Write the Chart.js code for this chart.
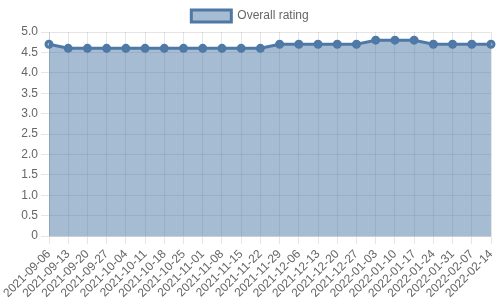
<!DOCTYPE html>
<html>
<head>
<meta charset="utf-8">
<script src="https://cdn.jsdelivr.net/npm/chart.js@4"></script>
<style>
  body { margin: 0; background: #fff; }
  #wrap { width: 500px; height: 300px; }
</style>
</head>
<body>
<div id="wrap"><canvas id="ratingChart"></canvas></div>
<script>
const weeks = [
  "2021-09-06", "2021-09-13", "2021-09-20", "2021-09-27", "2021-10-04",
  "2021-10-11", "2021-10-18", "2021-10-25", "2021-11-01", "2021-11-08",
  "2021-11-15", "2021-11-22", "2021-11-29", "2021-12-06", "2021-12-13",
  "2021-12-20", "2021-12-27", "2022-01-03", "2022-01-10", "2022-01-17",
  "2022-01-24", "2022-01-31", "2022-02-07", "2022-02-14",
];
const overallRating = [
  4.7, 4.6, 4.6, 4.6, 4.6, 4.6, 4.6, 4.6, 4.6, 4.6, 4.6, 4.6,
  4.7, 4.7, 4.7, 4.7, 4.7, 4.8, 4.8, 4.8, 4.7, 4.7, 4.7, 4.7,
];

Chart.defaults.font.family = "'Liberation Sans', Arial, sans-serif";
Chart.defaults.font.size = 12;
Chart.defaults.color = "#666";

const ctx = document.getElementById("ratingChart").getContext("2d");
const ratingChart = new Chart(ctx, {
  type: "line",
  data: {
    labels: weeks,
    datasets: [
      {
        label: "Overall rating",
        data: overallRating,
        borderColor: "rgba(78, 121, 167, 1)",
        backgroundColor: "rgba(78, 121, 167, 0.5)",
        borderWidth: 3,
        tension: 0,
        fill: true,
        pointRadius: 3,
        pointBackgroundColor: "rgba(78, 121, 167, 0.5)",
      },
    ],
  },
  options: {
    responsive: true,
    maintainAspectRatio: false,
    animation: false,
    scales: {
      y: {
        min: 0,
        max: 5,
        ticks: { stepSize: 0.5 },
        afterFit: (scale) => {
          scale.width = 49;
        },
      },
      x: {
        ticks: { maxRotation: 45, minRotation: 45, autoSkip: false },
        afterFit: (scale) => {
          // match the reference plot area
          scale.height = 64;
          scale.paddingLeft = 0;
          scale.paddingRight = 9;
        },
      },
    },
    plugins: {
      legend: { display: true },
    },
  },
});
</script>
</body>
</html>
